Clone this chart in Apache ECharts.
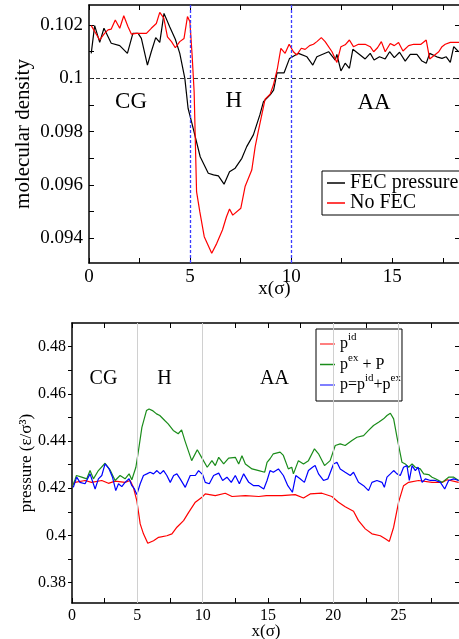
<!DOCTYPE html>
<html><head><meta charset="utf-8">
<script src="https://cdn.jsdelivr.net/npm/echarts@6/dist/echarts.min.js"></script>
<style>html,body{margin:0;padding:0;background:#fff}#c{width:459px;height:639px}</style>
</head><body><div id="c"></div>
<script>
// ---------- top panel: molecular density ----------
const densityTicks = [0.094, 0.096, 0.098, 0.1, 0.102];
const densityMinorTicks = [0.093, 0.095, 0.097, 0.099, 0.101];
const densityXTicks = [0, 5, 10, 15];
const densityXMinorTicks = [2.5, 7.5, 12.5, 17.5];
const fecX = [0.11,0.28,0.53,0.74,1.1,1.52,1.9,2.17,2.43,2.59,2.89,3.08,3.3,3.5,3.71,3.99,4.27,4.49,4.74,4.9,5.07,5.5,5.9,6.16,6.4,6.68,6.95,7.23,7.56,7.8,8.13,8.45,8.63,8.96,9.13,9.3,9.65,9.92,10.36,10.78,11.07,11.27,11.85,12.18,12.26,12.46,12.67,12.88,13.05,13.38,13.66,13.91,14.1,14.37,14.65,14.87,15.1,15.36,15.64,15.89,16.22,16.47,16.68,16.85,17.2,17.46,17.67,17.87,18.04,18.28];
const fecDensity = [0.10094,0.10198,0.10135,0.10188,0.10132,0.10123,0.10094,0.10169,0.10169,0.1015,0.1005,0.101,0.10153,0.10135,0.10244,0.10194,0.10147,0.10094,0.1,0.09888,0.09838,0.09706,0.09644,0.09638,0.09634,0.09603,0.0965,0.09663,0.097,0.09744,0.09788,0.09863,0.09913,0.09938,0.09956,0.10021,0.10021,0.10075,0.10094,0.10081,0.1005,0.10081,0.101,0.10069,0.1009,0.10028,0.10057,0.10038,0.10109,0.1009,0.10073,0.10094,0.10069,0.10081,0.10073,0.101,0.10078,0.10098,0.10065,0.1009,0.1009,0.10065,0.10057,0.10094,0.10081,0.10075,0.10081,0.1006,0.10119,0.101];
const noFecX = [0.11,0.53,0.77,0.94,1.1,1.3,1.52,1.72,1.93,2.1,2.34,2.84,3.08,3.33,3.5,3.7,3.88,4.08,4.27,4.49,4.7,4.87,4.99,5.1,5.2,5.32,5.48,5.7,6.07,6.32,6.6,6.8,6.95,7.11,7.51,7.72,8.05,8.22,8.37,8.71,8.96,9.12,9.32,9.49,9.7,9.9,10.11,10.28,10.5,10.69,10.91,11.1,11.27,11.49,11.68,12.02,12.26,12.46,12.67,12.88,13.08,13.33,13.66,13.91,14.08,14.27,14.46,14.65,14.9,15.1,15.31,15.53,15.81,16.06,16.42,16.68,16.85,17.13,17.3,17.46,17.62,17.87,18.32];
const noFecDensity = [0.10198,0.10144,0.10169,0.10182,0.10185,0.10219,0.10188,0.10235,0.10194,0.10166,0.10169,0.10169,0.10188,0.10206,0.10248,0.10226,0.10156,0.10138,0.10115,0.10138,0.1015,0.10232,0.10213,0.10088,0.0995,0.09575,0.095,0.09406,0.09344,0.09381,0.09431,0.09481,0.0951,0.09487,0.09513,0.09594,0.09656,0.09744,0.098,0.09922,0.09941,0.09975,0.10038,0.10113,0.10094,0.10128,0.101,0.10088,0.10113,0.10109,0.10123,0.10128,0.10138,0.10153,0.10138,0.101,0.1006,0.10119,0.10126,0.10144,0.10119,0.10128,0.10128,0.10119,0.101,0.10115,0.10138,0.101,0.10131,0.10123,0.10135,0.10103,0.10123,0.10128,0.10128,0.10144,0.10073,0.1009,0.101,0.10119,0.10128,0.10135,0.10135];

// ---------- bottom panel: pressure ----------
const pressureTicks = [0.38, 0.4, 0.42, 0.44, 0.46, 0.48];
const pressureMinorTicks = [0.39, 0.41, 0.43, 0.45, 0.47];
const pressureXTicks = [0, 5, 10, 15, 20, 25];
const pressureXMinorTicks = [2.5, 7.5, 12.5, 17.5, 22.5, 27.5];
const pidX = [0.05,0.23,1.0,1.5,2.28,2.79,3.3,4.06,4.45,4.7,4.96,5.22,5.47,5.8,6.24,6.63,7.26,7.65,8.03,8.54,8.93,9.44,9.95,10.2,10.97,11.73,12.25,13.27,14.3,14.88,16.06,17.08,17.72,18.23,19.13,19.89,20.4,20.91,21.55,21.93,22.45,22.96,23.6,23.98,24.29,24.62,25.0,25.38,25.77,26.53,27.56,28.33,28.71,29.6];
const pid = [0.4215,0.4225,0.4233,0.4225,0.4233,0.4221,0.423,0.4225,0.4233,0.4204,0.4148,0.4049,0.4007,0.3967,0.3978,0.3992,0.3999,0.4007,0.4035,0.4063,0.4098,0.4141,0.4162,0.4176,0.4169,0.4179,0.4165,0.4169,0.4165,0.4169,0.4169,0.4173,0.4159,0.4176,0.4179,0.4165,0.4141,0.4122,0.4103,0.4063,0.4028,0.4007,0.3999,0.3986,0.3975,0.4035,0.4141,0.4211,0.4225,0.4233,0.4225,0.4225,0.4236,0.4225];
const pexX = [0.05,0.23,0.34,0.74,1.13,1.38,1.64,2.02,2.53,2.91,3.3,3.68,4.06,4.37,4.58,4.89,5.09,5.35,5.7,5.9,6.16,6.47,6.72,7.1,7.36,7.75,8.13,8.39,8.64,9.16,9.59,9.92,10.35,10.71,10.97,11.23,11.61,11.99,12.5,12.76,13.01,13.27,13.78,14.3,14.75,14.93,15.16,15.41,15.93,16.18,16.56,16.82,16.95,17.33,17.72,18.1,18.56,18.87,19.33,19.76,20.15,20.53,20.91,21.43,21.81,22.32,22.7,23.08,23.47,23.6,23.85,24.11,24.37,24.62,24.88,25.26,25.51,25.77,26.03,26.28,26.66,26.92,27.3,27.56,27.82,28.33,28.83,29.22,29.6];
const pexPlusP = [0.421,0.4236,0.4254,0.4247,0.424,0.4275,0.424,0.4275,0.4306,0.4278,0.4233,0.4254,0.424,0.4261,0.4236,0.4289,0.436,0.4458,0.4529,0.4536,0.4529,0.4515,0.4508,0.4487,0.4473,0.4445,0.4431,0.4447,0.4402,0.4317,0.4363,0.4331,0.4289,0.4317,0.4296,0.4331,0.4303,0.4328,0.4331,0.4303,0.4338,0.4303,0.4282,0.4275,0.4268,0.431,0.4325,0.4346,0.4353,0.4339,0.4282,0.4289,0.4261,0.4317,0.4303,0.4317,0.4367,0.4346,0.4296,0.4317,0.4381,0.4388,0.4381,0.4402,0.4416,0.4423,0.4445,0.4466,0.448,0.4473,0.4494,0.4508,0.4518,0.4494,0.4416,0.431,0.4303,0.4289,0.4303,0.4289,0.4282,0.4261,0.4258,0.4247,0.424,0.4225,0.4247,0.4247,0.4233];
const ptotX = [0.1,0.36,0.61,1.0,1.38,1.77,2.02,2.28,2.53,2.84,3.1,3.35,3.56,3.81,4.06,4.37,4.58,4.78,4.96,5.22,5.47,5.73,5.98,6.24,6.5,6.75,7.01,7.26,7.52,7.78,8.03,8.28,8.67,9.05,9.44,9.69,10.0,10.2,10.51,10.84,11.23,11.53,11.86,12.19,12.5,12.81,13.14,13.53,13.91,14.3,14.68,14.93,15.16,15.41,15.8,16.18,16.52,16.87,17.13,17.46,17.79,18.1,18.41,18.61,18.87,19.25,19.59,20.02,20.28,20.53,20.91,21.3,21.55,21.93,22.32,22.7,22.96,23.34,23.73,23.91,24.11,24.37,24.62,24.88,25.13,25.38,25.64,25.82,26.03,26.28,26.49,26.8,27.05,27.43,27.82,28.2,28.53,28.83,29.22,29.6];
const ptot = [0.4204,0.4247,0.4225,0.4219,0.4261,0.4197,0.424,0.4254,0.4303,0.4282,0.4247,0.419,0.4219,0.4207,0.4225,0.424,0.4211,0.4197,0.4173,0.4219,0.4254,0.4261,0.4268,0.4261,0.4275,0.4261,0.4275,0.4254,0.4225,0.4254,0.4261,0.424,0.4204,0.4254,0.4254,0.4275,0.4258,0.4225,0.4219,0.4254,0.4264,0.4233,0.4247,0.4225,0.4254,0.4219,0.4261,0.4225,0.4211,0.4211,0.4197,0.4233,0.4275,0.4268,0.4282,0.4254,0.4211,0.4183,0.4254,0.424,0.4225,0.4275,0.4289,0.4296,0.4261,0.4233,0.424,0.4303,0.431,0.4282,0.4268,0.4254,0.4268,0.4225,0.4211,0.419,0.4225,0.4233,0.4225,0.4204,0.4247,0.4261,0.4275,0.4261,0.4254,0.4289,0.4296,0.4233,0.4296,0.4275,0.4289,0.4225,0.424,0.4233,0.4233,0.4225,0.4197,0.4233,0.424,0.4233];

const F = 'Liberation Serif';
const zip = (xs, ys) => xs.map((x, i) => [x, ys[i]]);
const fmt = v => String(+(+v).toFixed(4));

const chart = echarts.init(document.getElementById('c'));

function xAxes(grid, max, pos, major, minor, labels, fs) {
  return {
    type: 'value', gridIndex: grid, min: 0, max: max, interval: 5, position: pos,
    axisLine: {show: true, onZero: false, lineStyle: {color: '#000', width: 1.5}},
    axisTick: {show: true, inside: true, length: 5, customValues: major.concat(minor), lineStyle: {color: '#000', width: 1}},
    axisLabel: {show: labels, customValues: major, margin: 5, color: '#000', fontFamily: F, fontSize: fs},
    splitLine: {show: false}
  };
}
function yAxes(grid, min, max, pos, major, minor, labels, inside, fs) {
  return {
    type: 'value', gridIndex: grid, min: min, max: max, position: pos,
    axisLine: {show: true, onZero: false, lineStyle: {color: '#000', width: 1.5}},
    axisTick: {show: true, inside: inside, length: 5, customValues: major.concat(minor), lineStyle: {color: '#000', width: 1}},
    axisLabel: {show: labels, customValues: major, margin: 6, formatter: fmt, color: '#000', fontFamily: F, fontSize: fs},
    splitLine: {show: false}
  };
}
const nameStyle = fs => ({color: '#000', fontFamily: F, fontSize: fs});

const xA = [
  Object.assign(xAxes(0, 18.35, 'bottom', densityXTicks, densityXMinorTicks, true, 19),
    {name: 'x(σ)', nameLocation: 'middle', nameGap: 17, nameMoveOverlap: false, nameTextStyle: nameStyle(19)}),
  xAxes(0, 18.35, 'top', densityXTicks, densityXMinorTicks, false, 19),
  Object.assign(xAxes(1, 29.7, 'bottom', pressureXTicks, pressureXMinorTicks, true, 16),
    {name: 'x(σ)', nameLocation: 'middle', nameGap: 20, nameMoveOverlap: false, nameTextStyle: nameStyle(17)}),
  xAxes(1, 29.7, 'top', pressureXTicks, pressureXMinorTicks, false, 16)
];
const yA = [
  Object.assign(yAxes(0, 0.093073, 0.102754, 'left', densityTicks, densityMinorTicks, true, true, 19),
    {name: 'molecular density', nameLocation: 'middle', nameRotate: 90, nameGap: 55, nameMoveOverlap: false, nameTextStyle: nameStyle(21)}),
  yAxes(0, 0.093073, 0.102754, 'right', densityTicks, densityMinorTicks, false, true, 19),
  Object.assign(yAxes(1, 0.3714, 0.4900, 'left', pressureTicks, pressureMinorTicks, true, false, 16),
    {name: 'pressure (ε/σ³)', nameLocation: 'middle', nameRotate: 90, nameGap: 37, nameMoveOverlap: false, nameTextStyle: nameStyle(17)}),
  yAxes(1, 0.3714, 0.4900, 'right', pressureTicks, pressureMinorTicks, false, true, 16)
];
yA[2].axisLabel.margin = 6;
yA[2].axisTick.length = 4;

const annot = (items, fs) => ({
  symbol: 'circle', symbolSize: 0, silent: true,
  label: {show: true, position: 'inside', formatter: p => p.name, color: '#000', fontFamily: F, fontSize: fs},
  data: items.map(d => ({name: d[0], coord: [d[1], d[2]]}))
});

const legendNames = {pid: '{b|p}{s|id}', pex: '{b|p}{s|ex}{b| + P}', ptot: '{b|p=p}{s|id}{b|+p}{s|ex}'};

const option = {
  animation: false,
  backgroundColor: '#fff',
  grid: [
    {left: 89, top: 5, width: 371, height: 258, outerBoundsMode: 'none', containLabel: false},
    {left: 72, top: 323, width: 388, height: 280, outerBoundsMode: 'none', containLabel: false}
  ],
  xAxis: xA,
  yAxis: yA,
  legend: [
    {
      orient: 'vertical', left: 322, top: 171, itemGap: 0, itemWidth: 18, itemHeight: 1.5,
      padding: [2, 20, 2, 5], borderColor: '#000', borderWidth: 1, backgroundColor: '#fff', borderRadius: 0,
      textStyle: {fontFamily: F, fontSize: 20, color: '#000', lineHeight: 19},
      data: [{name: 'FEC pressure', icon: 'rect'}, {name: 'No FEC', icon: 'rect'}]
    },
    {
      orient: 'vertical', left: 316, top: 329, itemGap: 0.5, itemWidth: 15, itemHeight: 1.5,
      padding: [3, 1, 8, 4], borderColor: '#000', borderWidth: 1, backgroundColor: '#fff', borderRadius: 0,
      formatter: n => legendNames[n],
      textStyle: {fontFamily: F, fontSize: 16, color: '#000',
        rich: {
          b: {fontFamily: F, fontSize: 16, color: '#000', lineHeight: 24, verticalAlign: 'middle'},
          s: {fontFamily: F, fontSize: 11, color: '#000', lineHeight: 11, verticalAlign: 'top'}
        }},
      data: [{name: 'pid', icon: 'rect'}, {name: 'pex', icon: 'rect'}, {name: 'ptot', icon: 'rect'}]
    }
  ],
  series: [
    {
      name: 'FEC pressure', type: 'line', xAxisIndex: 0, yAxisIndex: 0, showSymbol: false, symbol: 'none',
      lineStyle: {color: '#000', width: 1.2}, itemStyle: {color: '#000'},
      data: zip(fecX, fecDensity),
      markLine: {
        silent: true, symbol: ['none', 'none'], label: {show: false},
        data: [
          {xAxis: 5, lineStyle: {color: '#3b3bff', type: [3, 2], width: 1.3}},
          {xAxis: 10, lineStyle: {color: '#3b3bff', type: [3, 2], width: 1.3}},
          {yAxis: 0.1, lineStyle: {color: '#333', type: [4, 3], width: 1.2}}
        ]
      },
      markPoint: annot([['CG', 2.08, 0.09913], ['H', 7.16, 0.09916], ['AA', 14.1, 0.09907]], 23)
    },
    {
      name: 'No FEC', type: 'line', xAxisIndex: 0, yAxisIndex: 0, showSymbol: false, symbol: 'none',
      lineStyle: {color: '#ff0000', width: 1.2}, itemStyle: {color: '#ff0000'},
      data: zip(noFecX, noFecDensity)
    },
    {
      name: 'pid', type: 'line', xAxisIndex: 2, yAxisIndex: 2, showSymbol: false, symbol: 'none',
      lineStyle: {color: '#ff0000', width: 1.2}, itemStyle: {color: '#ff5555'},
      data: zip(pidX, pid),
      markLine: {
        silent: true, symbol: ['none', 'none'], label: {show: false},
        lineStyle: {color: '#d0d0d0', type: 'solid', width: 1},
        data: [{xAxis: 5}, {xAxis: 10}, {xAxis: 20}, {xAxis: 25}]
      },
      markPoint: annot([['CG', 2.41, 0.4664], ['H', 7.07, 0.4664], ['AA', 15.5, 0.4664]], 20)
    },
    {
      name: 'pex', type: 'line', xAxisIndex: 2, yAxisIndex: 2, showSymbol: false, symbol: 'none',
      lineStyle: {color: '#1a8c1a', width: 1.2}, itemStyle: {color: '#1a8c1a'},
      data: zip(pexX, pexPlusP)
    },
    {
      name: 'ptot', type: 'line', xAxisIndex: 2, yAxisIndex: 2, showSymbol: false, symbol: 'none',
      lineStyle: {color: '#0000ff', width: 1.2}, itemStyle: {color: '#5555ff'},
      data: zip(ptotX, ptot)
    }
  ]
};
chart.setOption(option);
</script>
</body></html>
